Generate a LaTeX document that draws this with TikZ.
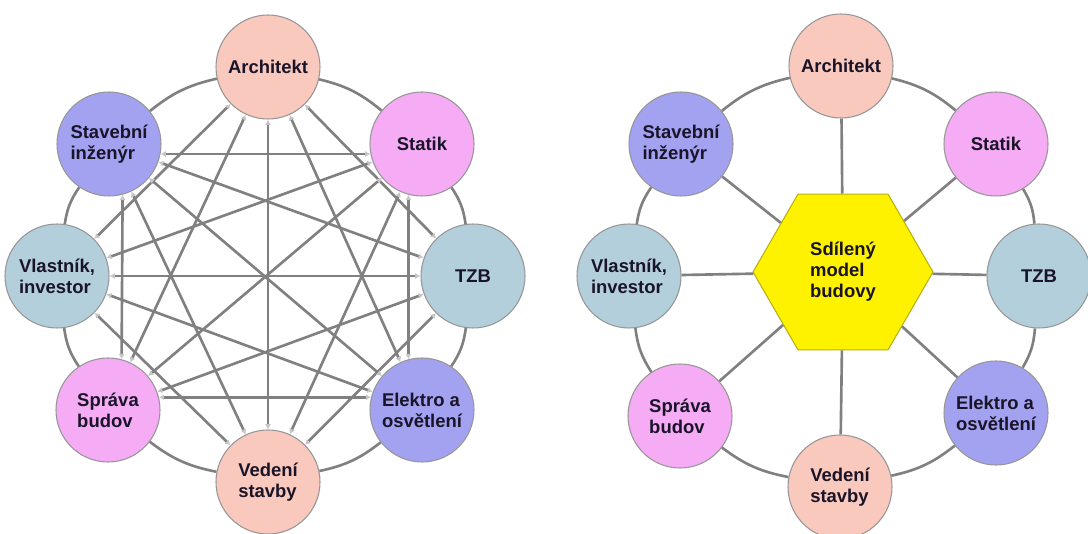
\documentclass[tikz,border=0pt]{standalone}
\usepackage{fontspec}
\setmainfont{Liberation Sans}
\usetikzlibrary{shapes.geometric,arrows.meta}

\definecolor{salmon}{RGB}{249,201,189}
\definecolor{orchid}{RGB}{245,172,245}
\definecolor{steel}{RGB}{180,207,220}
\definecolor{lavender}{RGB}{162,162,240}
\definecolor{linegray}{RGB}{128,128,128}
\definecolor{rimgray}{RGB}{150,150,150}
\definecolor{textdark}{RGB}{25,20,40}
\definecolor{hexrim}{RGB}{185,175,20}

\tikzset{
  role/.style={circle, draw=rimgray, line width=0.6pt, minimum size=2.08cm,
    inner sep=0pt, align=left, text=textdark,
    font=\fontsize{10.5}{12}\selectfont\bfseries},
  link/.style={draw=linegray, line width=1.5pt,
    {Latex[length=3pt,width=3.5pt,color=gray!45]}-{Latex[length=3pt,width=3.5pt,color=gray!45]}},
  ring/.style={draw=linegray, line width=1.5pt, bend left=13},
  spoke/.style={draw=linegray, line width=1.5pt}
}

\begin{document}
\begin{tikzpicture}
        \useasboundingbox (0,0) rectangle (21.76,10.68);

         % every role talks to every role
        \node[role, fill=salmon]   (arch1)   at (5.36,9.34) {Architekt};
        \node[role, fill=orchid]   (stat1)   at (8.44,7.80) {Statik};
        \node[role, fill=steel]    (tzb1)    at (9.46,5.16) {TZB};
        \node[role, fill=lavender] (elek1)   at (8.44,2.48) {Elektro a\\osvětlení};
        \node[role, fill=salmon]   (ved1)    at (5.36,1.04) {Vedení\\stavby};
        \node[role, fill=orchid]   (sprava1) at (2.16,2.48) {Správa\\budov};
        \node[role, fill=steel]    (vlast1)  at (1.14,5.16) {Vlastník,\\investor};
        \node[role, fill=lavender] (stav1)   at (2.18,7.80) {Stavební\\inženýr};

         % outer ring
        \draw[ring] (arch1) to (stat1);
        \draw[ring] (stat1) to (tzb1);
        \draw[ring] (tzb1) to (elek1);
        \draw[ring] (elek1) to (ved1);
        \draw[ring] (ved1) to (sprava1);
        \draw[ring] (sprava1) to (vlast1);
        \draw[ring] (vlast1) to (stav1);
        \draw[ring] (stav1) to (arch1);

         % cross links
        \draw[link] (arch1) -- (tzb1);
        \draw[link] (arch1) -- (elek1);
        \draw[link] (arch1) -- (ved1);
        \draw[link] (arch1) -- (sprava1);
        \draw[link] (arch1) -- (vlast1);
        \draw[link] (stat1.-105) -- (elek1.105);
        \draw[link] (stat1) -- (ved1);
        \draw[link] (stat1) -- (sprava1);
        \draw[link] (stat1) -- (vlast1);
        \draw[link] (stat1.-169) -- (stav1.-11);
        \draw[link] (tzb1) -- (ved1);
        \draw[link] (tzb1) -- (sprava1);
        \draw[link] (tzb1) -- (vlast1);
        \draw[link] (tzb1) -- (stav1);
        \draw[link] (elek1.166) -- (sprava1.14);
        \draw[link] (elek1) -- (vlast1);
        \draw[link] (elek1) -- (stav1);
        \draw[link] (ved1) -- (vlast1);
        \draw[link] (ved1) -- (stav1);
        \draw[link] (sprava1.75) -- (stav1.-75);

         % shared model in the middle
        \node[regular polygon, regular polygon sides=6, minimum size=3.6cm,
          inner sep=0pt, fill=yellow, draw=hexrim, line width=0.6pt, align=left,
          text=textdark, font=\fontsize{10.5}{12}\selectfont\bfseries]
          (model) at (16.86,5.24) {Sdílený\\model\\budovy};

        \node[role, fill=salmon]   (arch2)   at (16.82,9.36) {Architekt};
        \node[role, fill=orchid]   (stat2)   at (19.92,7.80) {Statik};
        \node[role, fill=steel]    (tzb2)    at (20.78,5.16) {TZB};
        \node[role, fill=lavender] (elek2)   at (19.92,2.42) {Elektro a\\osvětlení};
        \node[role, fill=salmon]   (ved2)    at (16.80,0.94) {Vedení\\stavby};
        \node[role, fill=orchid]   (sprava2) at (13.60,2.36) {Správa\\budov};
        \node[role, fill=steel]    (vlast2)  at (12.58,5.16) {Vlastník,\\investor};
        \node[role, fill=lavender] (stav2)   at (13.62,7.80) {Stavební\\inženýr};

         % outer ring
        \draw[ring] (arch2) to (stat2);
        \draw[ring] (stat2) to (tzb2);
        \draw[ring] (tzb2) to (elek2);
        \draw[ring] (elek2) to (ved2);
        \draw[ring] (ved2) to (sprava2);
        \draw[ring] (sprava2) to (vlast2);
        \draw[ring] (vlast2) to (stav2);
        \draw[ring] (stav2) to (arch2);

         % spokes
        \draw[spoke] (model) -- (arch2);
        \draw[spoke] (model) -- (stat2);
        \draw[spoke] (model) -- (tzb2);
        \draw[spoke] (model) -- (elek2);
        \draw[spoke] (model) -- (ved2);
        \draw[spoke] (model) -- (sprava2);
        \draw[spoke] (model) -- (vlast2);
        \draw[spoke] (model) -- (stav2);
      \end{tikzpicture}
\end{document}
